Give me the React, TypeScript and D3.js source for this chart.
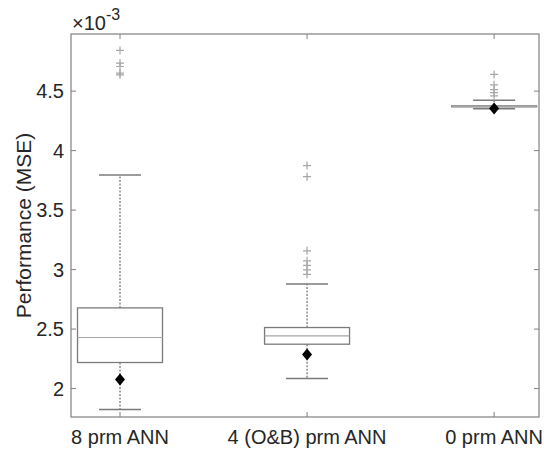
import { useEffect, useRef } from "react";
import * as d3 from "d3";

// Group labels
const categories = ["8 prm ANN", "4 (O&B) prm ANN", "0 prm ANN"];

// Box stats (values in units of 1e-3)
const lowerWhisker = [1.823, 2.084, 4.352];
const q1 = [2.219, 2.373, 4.368];
const median = [2.429, 2.443, 4.372];
const q3 = [2.678, 2.513, 4.376];
const upperWhisker = [3.795, 2.878, 4.424];
const means = [2.076, 2.286, 4.354];

// Outliers per group
const outliers1 = [4.842, 4.736, 4.707, 4.652, 4.637];
const outliers2 = [3.874, 3.781, 3.158, 3.074, 3.035, 2.998, 2.96];
const outliers3 = [4.64, 4.553, 4.513, 4.488, 4.46];

const yTicks = [2, 2.5, 3, 3.5, 4, 4.5];

export default function App() {
  const ref = useRef<SVGSVGElement>(null);

  useEffect(() => {
    const svg = d3.select(ref.current);
    svg.selectAll("*").remove();

    const width = 544;
    const height = 450;
    const margin = { left: 71, right: 5, top: 34, bottom: 33 };
    const font = "'Liberation Sans', Arial, Helvetica, sans-serif";
    const axisColor = "#808080";
    const textColor = "#262626";
    const boxColor = "#7a7a7a";
    const lightColor = "#a6a6a6";

    const x = d3
      .scaleLinear()
      .domain([0.738, 3.24])
      .range([margin.left, width - margin.right]);
    const y = d3
      .scaleLinear()
      .domain([1.761, 4.98])
      .range([height - margin.bottom, margin.top]);

    const boxHalf = 42.5;
    const capHalf = 21;
    const tickLen = 5;

    const groups = categories.map((c, i) => ({
      name: c,
      pos: i + 1,
      lw: lowerWhisker[i],
      q1: q1[i],
      med: median[i],
      q3: q3[i],
      uw: upperWhisker[i],
      mean: means[i],
      out: [outliers1, outliers2, outliers3][i],
    }));

    const g = svg.append("g");

    groups.forEach((d) => {
      const cx = x(d.pos);
      // whiskers (dotted)
      [[d.q3, d.uw], [d.q1, d.lw]].forEach(([a, b]) => {
        g.append("line")
          .attr("x1", cx).attr("x2", cx)
          .attr("y1", y(a)).attr("y2", y(b))
          .attr("stroke", boxColor)
          .attr("stroke-width", 1.3)
          .attr("stroke-dasharray", "2,1.5");
      });
      // caps
      [d.uw, d.lw].forEach((v) => {
        g.append("line")
          .attr("x1", cx - capHalf).attr("x2", cx + capHalf)
          .attr("y1", y(v)).attr("y2", y(v))
          .attr("stroke", boxColor)
          .attr("stroke-width", 1.5);
      });
      // box
      g.append("rect")
        .attr("x", cx - boxHalf)
        .attr("y", y(d.q3))
        .attr("width", boxHalf * 2)
        .attr("height", Math.max(1, y(d.q1) - y(d.q3)))
        .attr("fill", "none")
        .attr("stroke", boxColor)
        .attr("stroke-width", 1.3);
      // median
      g.append("line")
        .attr("x1", cx - boxHalf).attr("x2", cx + boxHalf)
        .attr("y1", y(d.med)).attr("y2", y(d.med))
        .attr("stroke", lightColor)
        .attr("stroke-width", 1.2);
      // outliers
      d.out.forEach((v) => {
        const oy = y(v);
        g.append("path")
          .attr("d", `M${cx - 4},${oy}H${cx + 4}M${cx},${oy - 4}V${oy + 4}`)
          .attr("stroke", lightColor)
          .attr("stroke-width", 1.2)
          .attr("fill", "none");
      });
      // mean diamond
      const my = y(d.mean);
      g.append("path")
        .attr("d", `M${cx},${my - 6}L${cx + 5},${my}L${cx},${my + 6}L${cx - 5},${my}Z`)
        .attr("fill", "#000");
    });

    // axes box
    const left = margin.left;
    const right = width - margin.right;
    const top = margin.top;
    const bottom = height - margin.bottom;
    svg.append("rect")
      .attr("x", left).attr("y", top)
      .attr("width", right - left).attr("height", bottom - top)
      .attr("fill", "none")
      .attr("stroke", axisColor)
      .attr("stroke-width", 1.2);

    // y ticks (inward, both sides)
    yTicks.forEach((t) => {
      const ty = y(t);
      svg.append("line")
        .attr("x1", left).attr("x2", left + tickLen)
        .attr("y1", ty).attr("y2", ty)
        .attr("stroke", axisColor);
      svg.append("line")
        .attr("x1", right).attr("x2", right - tickLen)
        .attr("y1", ty).attr("y2", ty)
        .attr("stroke", axisColor);
      svg.append("text")
        .attr("x", left - 7)
        .attr("y", ty)
        .attr("dy", "0.36em")
        .attr("text-anchor", "end")
        .attr("font-family", font)
        .attr("font-size", 20)
        .attr("fill", textColor)
        .text(String(t));
    });

    // x ticks (inward, top and bottom) and labels
    groups.forEach((d) => {
      const cx = x(d.pos);
      svg.append("line")
        .attr("x1", cx).attr("x2", cx)
        .attr("y1", bottom).attr("y2", bottom - tickLen)
        .attr("stroke", axisColor);
      svg.append("line")
        .attr("x1", cx).attr("x2", cx)
        .attr("y1", top).attr("y2", top + tickLen)
        .attr("stroke", axisColor);
      svg.append("text")
        .attr("x", cx)
        .attr("y", bottom + 27)
        .attr("text-anchor", "middle")
        .attr("font-family", font)
        .attr("font-size", 20)
        .attr("fill", textColor)
        .text(d.name);
    });

    // exponent label
    const exp = svg.append("text")
      .attr("x", left + 1)
      .attr("y", 30)
      .attr("font-family", font)
      .attr("font-size", 20)
      .attr("fill", textColor);
    exp.append("tspan").text("×10");
    exp.append("tspan")
      .attr("dy", -10)
      .attr("font-size", 16)
      .text("-3");

    // y axis title
    svg.append("text")
      .attr("transform", `translate(31,${(top + bottom) / 2}) rotate(-90)`)
      .attr("text-anchor", "middle")
      .attr("font-family", font)
      .attr("font-size", 21)
      .attr("fill", textColor)
      .text("Performance (MSE)");
  }, []);

  return (
    <svg
      ref={ref}
      width={544}
      height={450}
      style={{ position: "absolute", left: 0, top: 0, background: "#fff" }}
    />
  );
}
